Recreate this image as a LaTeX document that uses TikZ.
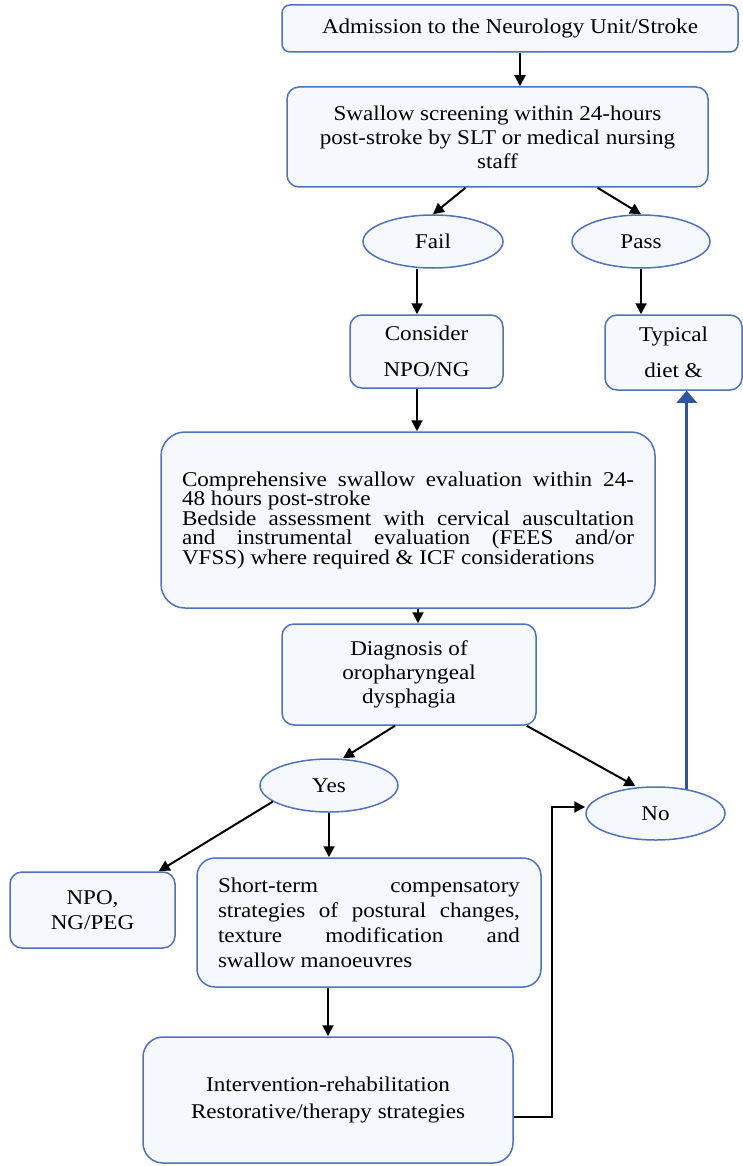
\documentclass[tikz,border=0pt]{standalone}
\usepackage{fontspec}
\setmainfont[FakeStretch=1.1]{Liberation Serif}
\usepackage{tikz}
\usetikzlibrary{shapes.geometric,arrows.meta}
\setlength{\parindent}{0pt}
\tolerance=10000
\hyphenpenalty=10000
\exhyphenpenalty=10000

\definecolor{boxline}{RGB}{79,113,190}
\definecolor{boxfill}{RGB}{245,248,253}
\definecolor{backblue}{RGB}{47,84,160}

\tikzset{
  box/.style={draw=boxline, fill=boxfill, line width=0.75pt, rounded corners=6pt,
    align=center, inner sep=2pt, font=\fontsize{10.5}{12}\selectfont},
  jbox/.style={box, align=justify},
  oval/.style={ellipse, draw=boxline, fill=boxfill, line width=0.75pt,
    minimum width=70pt, minimum height=26.5pt, inner sep=0pt,
    font=\fontsize{10.5}{12}\selectfont},
  arr/.style={-{Triangle[width=5.5pt,length=5.5pt]}, line width=1pt},
  backarr/.style={-{Triangle[width=10pt,length=6pt]}, line width=1.4pt, draw=backblue, fill=backblue},
}

\begin{document}
\begin{tikzpicture}[x=0.5pt,y=-0.5pt]
\useasboundingbox (0,0) rectangle (743,1166);

% boxes
\node [box, minimum width=228pt, minimum height=23.5pt, rounded corners=4pt] (adm) at (510,28.5)
  {Admission to the Neurology Unit/Stroke};
\node [box, minimum width=210.5pt, minimum height=50pt] (scr) at (497.5,137)
  {Swallow screening within 24-hours\\post-stroke by SLT or medical nursing\\staff};
\node [oval] (fail) at (433,241.5) {Fail};
\node [oval, minimum width=69pt] (pass) at (641,241.5) {Pass};
\node [box, minimum width=76.5pt, minimum height=36.5pt, font=\fontsize{10.5}{18}\selectfont] (con) at (426.5,351.5)
  {Consider\\NPO/NG};
\node [box, minimum width=68.5pt, minimum height=37.5pt, font=\fontsize{10.5}{18}\selectfont] (typ) at (673.5,352.5)
  {Typical\\diet \&};
\node [jbox, text width=226pt, minimum width=247pt, minimum height=88pt, rounded corners=12pt,
  font=\fontsize{10.5}{9.75}\selectfont] (ev) at (408,520)
  {Comprehensive swallow evaluation within 24-\linebreak 48 hours post-stroke\par
   Bedside assessment with cervical auscultation\linebreak and instrumental evaluation (FEES and/or\linebreak
   VFSS) where required \& ICF considerations};
\node [box, minimum width=127pt, minimum height=50.5pt] (diag) at (409,674.5)
  {Diagnosis of\\oropharyngeal\\dysphagia};
\node [oval, minimum width=69pt] (yes) at (329,785.5) {Yes};
\node [oval, minimum width=69.5pt] (no) at (655.5,813.5) {No};
\node [box, minimum width=82.5pt, minimum height=38pt, font=\fontsize{10.5}{12.5}\selectfont] (npo) at (92.5,910)
  {NPO,\\NG/PEG};
\node [jbox, text width=151pt, minimum width=172pt, minimum height=64.5pt, rounded corners=9pt,
  font=\fontsize{10.5}{12.5}\selectfont] (st) at (369,922.5)
  {Short-term compensatory\linebreak strategies of postural changes,\linebreak
   texture modification and\linebreak swallow manoeuvres};
\node [box, minimum width=185pt, minimum height=63pt, rounded corners=10pt,
  font=\fontsize{10.5}{13.5}\selectfont] (int) at (328,1100)
  {Intervention-rehabilitation\\Restorative/therapy strategies};

% connectors
\draw [arr] ([xshift=5pt]adm.south) -- ([xshift=5pt]adm.south |- scr.north);
\draw [arr] ([xshift=-16pt]scr.south) -- (fail.north);
\draw [arr] ([xshift=50pt]scr.south) -- (pass.north);
\draw [arr] ([xshift=-4.75pt]con.north |- fail.south) -- ([xshift=-4.75pt]con.north);
\draw [arr] (pass.south) -- (pass.south |- typ.north);
\draw [arr] ([xshift=-4.75pt]con.south) -- ([xshift=-4.75pt]con.south |- ev.north);
\draw [arr] ([xshift=4.5pt]diag.north |- ev.south) -- ([xshift=4.5pt]diag.north);
\draw [arr] ([xshift=-7pt]diag.south) -- ([xshift=7pt]yes.north);
\draw [arr] ([xshift=-5pt]diag.south east) -- ([xshift=-10pt]no.north);
\draw [arr] (yes.196) -- ([xshift=-8.5pt]npo.north east);
\draw [arr] (yes.south) -- (yes.south |- st.north);
\draw [arr] (int.north |- st.south) -- (int.north);
\draw [arr] ([yshift=-8.5pt]int.east) -| ([xshift=-16.5pt,yshift=3.25pt]no.west) -- ([yshift=3.25pt]no.west);
\draw [backarr] (no.38) -- (no.38 |- typ.south);
\end{tikzpicture}
\end{document}
